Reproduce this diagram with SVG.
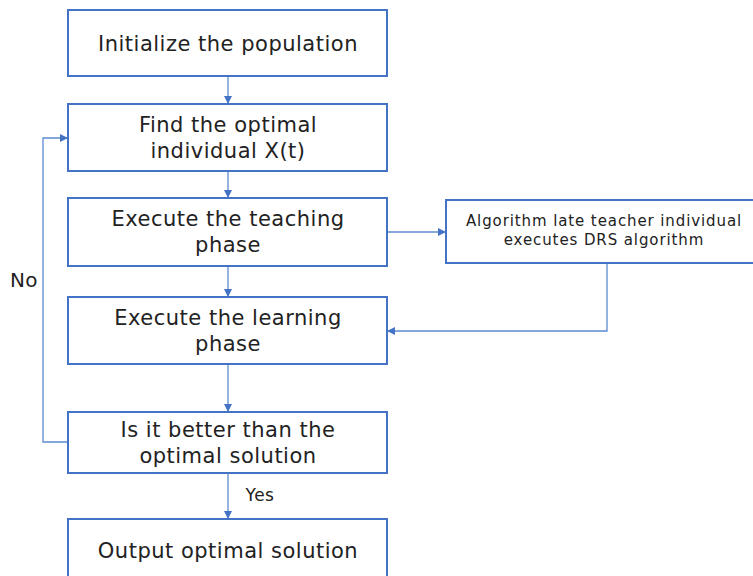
<svg xmlns="http://www.w3.org/2000/svg" width="753" height="576" viewBox="0 0 753 576">
<style>
.box{fill:#fff;stroke:#4472c4;stroke-width:2}
.t{font-family:"DejaVu Sans","Noto Sans",sans-serif;font-size:21px;letter-spacing:0.5px;fill:#222;text-anchor:middle}
.s{font-family:"DejaVu Sans","Noto Sans",sans-serif;font-size:15px;letter-spacing:0.9px;fill:#222;text-anchor:middle}
.c{fill:none;stroke:#5b8bd0;stroke-width:1.3}
</style>
<defs>
<marker id="ah" viewBox="0 0 10 10" refX="10" refY="5" markerWidth="8" markerHeight="8" markerUnits="userSpaceOnUse" orient="auto">
<path d="M0,0 L10,5 L0,10 z" fill="#4472c4"/>
</marker>
</defs>
<rect width="753" height="576" fill="#fff"/>
<g id="connectors">
<path class="c" d="M228,76 V104" marker-end="url(#ah)"/>
<path class="c" d="M228,171 V198" marker-end="url(#ah)"/>
<path class="c" d="M387,232 H446" marker-end="url(#ah)"/>
<path class="c" d="M228,266 V297" marker-end="url(#ah)"/>
<path class="c" d="M607,263 V331 H387" marker-end="url(#ah)"/>
<path class="c" d="M228,364 V412" marker-end="url(#ah)"/>
<path class="c" d="M68,442 H43 V138 H68" marker-end="url(#ah)"/>
<path class="c" d="M228,473 V519" marker-end="url(#ah)"/>
<text class="t" x="24" y="287" style="font-size:20px">No</text>
<text class="s" x="260" y="501" style="font-size:17px;letter-spacing:0.5px">Yes</text>
</g>
<g id="n1"><rect class="box" x="68" y="10" width="319" height="66"/><text class="t" x="228" y="51">Initialize the population</text></g>
<g id="n2"><rect class="box" x="68" y="104" width="319" height="67"/><text class="t" x="228" y="132">Find the optimal</text><text class="t" x="228" y="158">individual X(t)</text></g>
<g id="n3"><rect class="box" x="68" y="198" width="319" height="68"/><text class="t" x="228" y="226">Execute the teaching</text><text class="t" x="228" y="252">phase</text></g>
<g id="n4"><rect class="box" x="446" y="200" width="320" height="63"/><text class="s" x="604" y="226">Algorithm late teacher individual</text><text class="s" x="604" y="245">executes DRS algorithm</text></g>
<g id="n5"><rect class="box" x="68" y="297" width="319" height="67"/><text class="t" x="228" y="325">Execute the learning</text><text class="t" x="228" y="351">phase</text></g>
<g id="n6"><rect class="box" x="68" y="412" width="319" height="61"/><text class="t" x="228" y="437">Is it better than the</text><text class="t" x="228" y="463">optimal solution</text></g>
<g id="n7"><rect class="box" x="68" y="519" width="319" height="70"/><text class="t" x="228" y="558">Output optimal solution</text></g>
</svg>
